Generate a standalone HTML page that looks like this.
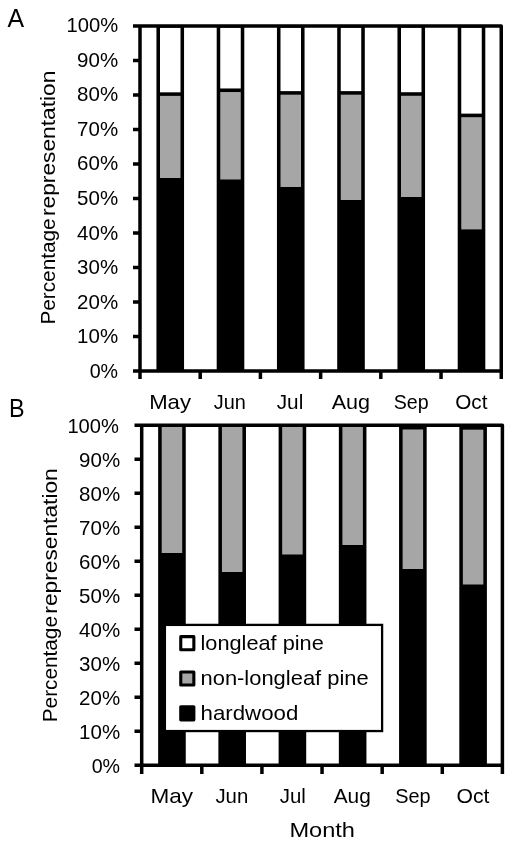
<!DOCTYPE html>
<html lang="en">
<head>
<meta charset="utf-8">
<title>Percentage representation by month</title>
<style>
html,body{margin:0;padding:0;background:#fff;}
svg{display:block;}
text{font-family:'Liberation Sans', sans-serif;fill:#000;}
</style>
</head>
<body>
<svg width="512" height="845" viewBox="0 0 512 845">
<rect width="512" height="845" fill="#fff"/>
<rect x="156.45" y="25.95" width="27.60" height="344.95" fill="#000"/>
<rect x="160.00" y="27.70" width="20.50" height="64.62" fill="#fff"/>
<rect x="160.00" y="95.88" width="20.50" height="82.12" fill="#a6a6a6"/>
<rect x="216.70" y="25.95" width="27.60" height="344.95" fill="#000"/>
<rect x="220.25" y="27.70" width="20.50" height="60.77" fill="#fff"/>
<rect x="220.25" y="92.03" width="20.50" height="87.47" fill="#a6a6a6"/>
<rect x="276.95" y="25.95" width="27.60" height="344.95" fill="#000"/>
<rect x="280.50" y="27.70" width="20.50" height="63.42" fill="#fff"/>
<rect x="280.50" y="94.68" width="20.50" height="92.32" fill="#a6a6a6"/>
<rect x="337.20" y="25.95" width="27.60" height="344.95" fill="#000"/>
<rect x="340.75" y="27.70" width="20.50" height="63.42" fill="#fff"/>
<rect x="340.75" y="94.68" width="20.50" height="105.32" fill="#a6a6a6"/>
<rect x="397.45" y="25.95" width="27.60" height="344.95" fill="#000"/>
<rect x="401.00" y="27.70" width="20.50" height="64.52" fill="#fff"/>
<rect x="401.00" y="95.78" width="20.50" height="101.22" fill="#a6a6a6"/>
<rect x="457.70" y="25.95" width="27.60" height="344.95" fill="#000"/>
<rect x="461.25" y="27.70" width="20.50" height="85.92" fill="#fff"/>
<rect x="461.25" y="117.18" width="20.50" height="112.22" fill="#a6a6a6"/>
<path d="M133.00 25.95H501.25V378.90" fill="none" stroke="#000" stroke-width="3.5" stroke-linejoin="round"/>
<path d="M140.00 25.95V378.90M133.00 370.90H501.25" fill="none" stroke="#000" stroke-width="3.5"/>
<path d="M133.00 60.44H140.00M133.00 94.94H140.00M133.00 129.43H140.00M133.00 163.93H140.00M133.00 198.42H140.00M133.00 232.92H140.00M133.00 267.42H140.00M133.00 301.91H140.00M133.00 336.40H140.00M200.21 370.90V378.90M260.42 370.90V378.90M320.62 370.90V378.90M380.83 370.90V378.90M441.04 370.90V378.90" fill="none" stroke="#000" stroke-width="3.5"/>
<rect x="158.15" y="425.20" width="27.60" height="340.10" fill="#000"/>
<rect x="161.70" y="426.95" width="20.50" height="126.05" fill="#a6a6a6"/>
<rect x="218.38" y="425.20" width="27.60" height="340.10" fill="#000"/>
<rect x="221.93" y="426.95" width="20.50" height="145.05" fill="#a6a6a6"/>
<rect x="278.61" y="425.20" width="27.60" height="340.10" fill="#000"/>
<rect x="282.16" y="426.95" width="20.50" height="127.55" fill="#a6a6a6"/>
<rect x="338.84" y="425.20" width="27.60" height="340.10" fill="#000"/>
<rect x="342.39" y="426.95" width="20.50" height="118.05" fill="#a6a6a6"/>
<rect x="399.07" y="425.20" width="27.60" height="340.10" fill="#000"/>
<rect x="402.62" y="429.47" width="20.50" height="139.53" fill="#a6a6a6"/>
<rect x="459.30" y="425.20" width="27.60" height="340.10" fill="#000"/>
<rect x="462.85" y="429.67" width="20.50" height="154.83" fill="#a6a6a6"/>
<path d="M134.50 425.20H502.40V773.90" fill="none" stroke="#000" stroke-width="3.5" stroke-linejoin="round"/>
<path d="M141.70 425.20V773.90M134.50 765.30H502.40" fill="none" stroke="#000" stroke-width="3.5"/>
<path d="M134.50 459.21H141.70M134.50 493.22H141.70M134.50 527.23H141.70M134.50 561.24H141.70M134.50 595.25H141.70M134.50 629.26H141.70M134.50 663.27H141.70M134.50 697.28H141.70M134.50 731.29H141.70M201.82 765.30V773.90M261.93 765.30V773.90M322.05 765.30V773.90M382.17 765.30V773.90M442.28 765.30V773.90" fill="none" stroke="#000" stroke-width="3.5"/>
<rect x="164.9" y="624.9" width="217.2" height="106.15" fill="#fff" stroke="#000" stroke-width="2.3"/>
<rect x="180.75" y="636.65" width="13.1" height="13.1" fill="#fff" stroke="#000" stroke-width="3.1" stroke-linejoin="round"/>
<rect x="180.75" y="671.95" width="13.1" height="13.1" fill="#a6a6a6" stroke="#000" stroke-width="3.1" stroke-linejoin="round"/>
<rect x="180.75" y="706.75" width="13.1" height="13.1" fill="#000" stroke="#000" stroke-width="3.1" stroke-linejoin="round"/>
<text x="200.50" y="649.75" font-size="20.2" text-anchor="start" textLength="123.30" lengthAdjust="spacingAndGlyphs">longleaf pine</text>
<text x="200.50" y="684.75" font-size="20.2" text-anchor="start" textLength="168.20" lengthAdjust="spacingAndGlyphs">non-longleaf pine</text>
<text x="200.50" y="719.75" font-size="20.2" text-anchor="start" textLength="97.80" lengthAdjust="spacingAndGlyphs">hardwood</text>
<text x="7.60" y="27.30" font-size="26.2" text-anchor="start" textLength="16.60" lengthAdjust="spacingAndGlyphs">A</text>
<text x="9.00" y="417.20" font-size="26.2" text-anchor="start" textLength="15.60" lengthAdjust="spacingAndGlyphs">B</text>
<text x="118.10" y="32.00" font-size="20.4" text-anchor="end" textLength="51.60" lengthAdjust="spacingAndGlyphs">100%</text>
<text x="119.00" y="432.50" font-size="20.4" text-anchor="end" textLength="51.60" lengthAdjust="spacingAndGlyphs">100%</text>
<text x="118.10" y="66.61" font-size="20.4" text-anchor="end" textLength="41.00" lengthAdjust="spacingAndGlyphs">90%</text>
<text x="120.10" y="466.54" font-size="20.4" text-anchor="end" textLength="41.00" lengthAdjust="spacingAndGlyphs">90%</text>
<text x="118.10" y="101.22" font-size="20.4" text-anchor="end" textLength="41.00" lengthAdjust="spacingAndGlyphs">80%</text>
<text x="120.10" y="500.58" font-size="20.4" text-anchor="end" textLength="41.00" lengthAdjust="spacingAndGlyphs">80%</text>
<text x="118.10" y="135.83" font-size="20.4" text-anchor="end" textLength="41.00" lengthAdjust="spacingAndGlyphs">70%</text>
<text x="120.10" y="534.62" font-size="20.4" text-anchor="end" textLength="41.00" lengthAdjust="spacingAndGlyphs">70%</text>
<text x="118.10" y="170.44" font-size="20.4" text-anchor="end" textLength="41.00" lengthAdjust="spacingAndGlyphs">60%</text>
<text x="120.10" y="568.66" font-size="20.4" text-anchor="end" textLength="41.00" lengthAdjust="spacingAndGlyphs">60%</text>
<text x="118.10" y="205.05" font-size="20.4" text-anchor="end" textLength="41.00" lengthAdjust="spacingAndGlyphs">50%</text>
<text x="120.10" y="602.70" font-size="20.4" text-anchor="end" textLength="41.00" lengthAdjust="spacingAndGlyphs">50%</text>
<text x="118.10" y="239.66" font-size="20.4" text-anchor="end" textLength="41.00" lengthAdjust="spacingAndGlyphs">40%</text>
<text x="120.10" y="636.74" font-size="20.4" text-anchor="end" textLength="41.00" lengthAdjust="spacingAndGlyphs">40%</text>
<text x="118.10" y="274.27" font-size="20.4" text-anchor="end" textLength="41.00" lengthAdjust="spacingAndGlyphs">30%</text>
<text x="120.10" y="670.78" font-size="20.4" text-anchor="end" textLength="41.00" lengthAdjust="spacingAndGlyphs">30%</text>
<text x="118.10" y="308.88" font-size="20.4" text-anchor="end" textLength="41.00" lengthAdjust="spacingAndGlyphs">20%</text>
<text x="120.10" y="704.82" font-size="20.4" text-anchor="end" textLength="41.00" lengthAdjust="spacingAndGlyphs">20%</text>
<text x="118.10" y="343.49" font-size="20.4" text-anchor="end" textLength="41.00" lengthAdjust="spacingAndGlyphs">10%</text>
<text x="120.10" y="738.86" font-size="20.4" text-anchor="end" textLength="41.00" lengthAdjust="spacingAndGlyphs">10%</text>
<text x="118.10" y="378.10" font-size="20.4" text-anchor="end" textLength="28.40" lengthAdjust="spacingAndGlyphs">0%</text>
<text x="120.10" y="772.90" font-size="20.4" text-anchor="end" textLength="28.40" lengthAdjust="spacingAndGlyphs">0%</text>
<text x="149.20" y="409.00" font-size="20.4" text-anchor="start" textLength="41.80" lengthAdjust="spacingAndGlyphs">May</text>
<text x="213.70" y="409.00" font-size="20.4" text-anchor="start" textLength="32.10" lengthAdjust="spacingAndGlyphs">Jun</text>
<text x="276.70" y="409.00" font-size="20.4" text-anchor="start" textLength="26.60" lengthAdjust="spacingAndGlyphs">Jul</text>
<text x="331.70" y="409.00" font-size="20.4" text-anchor="start" textLength="38.35" lengthAdjust="spacingAndGlyphs">Aug</text>
<text x="393.70" y="409.00" font-size="20.4" text-anchor="start" textLength="34.85" lengthAdjust="spacingAndGlyphs">Sep</text>
<text x="455.20" y="409.00" font-size="20.4" text-anchor="start" textLength="32.20" lengthAdjust="spacingAndGlyphs">Oct</text>
<text x="150.40" y="803.00" font-size="20.4" text-anchor="start" textLength="42.60" lengthAdjust="spacingAndGlyphs">May</text>
<text x="215.45" y="803.00" font-size="20.4" text-anchor="start" textLength="32.85" lengthAdjust="spacingAndGlyphs">Jun</text>
<text x="279.70" y="803.00" font-size="20.4" text-anchor="start" textLength="26.10" lengthAdjust="spacingAndGlyphs">Jul</text>
<text x="333.70" y="803.00" font-size="20.4" text-anchor="start" textLength="37.10" lengthAdjust="spacingAndGlyphs">Aug</text>
<text x="395.20" y="803.00" font-size="20.4" text-anchor="start" textLength="35.35" lengthAdjust="spacingAndGlyphs">Sep</text>
<text x="456.45" y="803.00" font-size="20.4" text-anchor="start" textLength="32.95" lengthAdjust="spacingAndGlyphs">Oct</text>
<text x="289.40" y="837.25" font-size="20.5" text-anchor="start" textLength="65.60" lengthAdjust="spacingAndGlyphs">Month</text>
<text transform="translate(55.3 324.60) rotate(-90)" x="0" y="0" font-size="19.5" textLength="106.2" lengthAdjust="spacingAndGlyphs">Percentage</text>
<text transform="translate(55.3 216.00) rotate(-90)" x="0" y="0" font-size="19.5" textLength="145.4" lengthAdjust="spacingAndGlyphs">representation</text>
<text transform="translate(56.8 722.25) rotate(-90)" x="0" y="0" font-size="19.5" textLength="106.2" lengthAdjust="spacingAndGlyphs">Percentage</text>
<text transform="translate(56.8 613.65) rotate(-90)" x="0" y="0" font-size="19.5" textLength="145.4" lengthAdjust="spacingAndGlyphs">representation</text>
</svg>
</body>
</html>
